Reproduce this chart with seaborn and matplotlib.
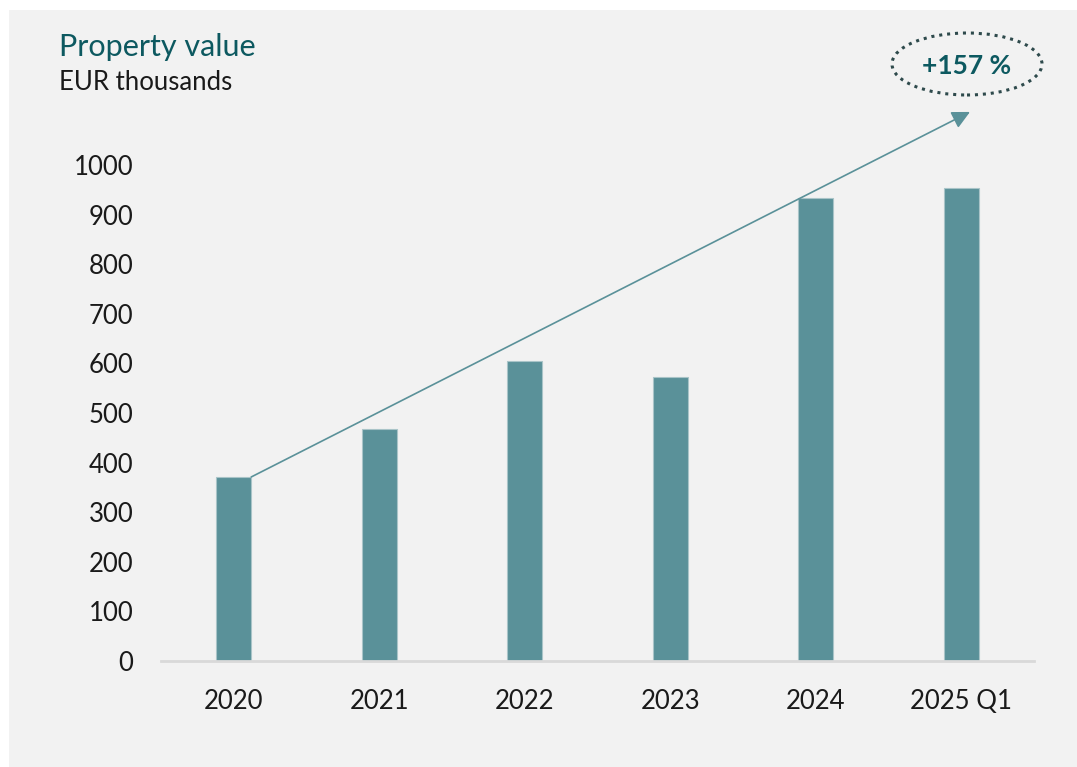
import matplotlib
matplotlib.use("Agg")
import matplotlib.pyplot as plt
from matplotlib.patches import Ellipse, Rectangle
import seaborn as sns
import pandas as pd

# Property value by year, EUR thousands
years = ["2020", "2021", "2022", "2023", "2024", "2025 Q1"]
values = [371, 468, 605, 573, 933, 954]
growth_label = "+157 %"
yticks = [0, 100, 200, 300, 400, 500, 600, 700, 800, 900, 1000]

bar_color = "#5a9199"
title_color = "#0d5960"
text_color = "#1a1a1a"
panel_color = "#f2f2f2"

sns.set_theme(style="white")
plt.rcParams["font.family"] = ["Lato", "DejaVu Sans"]

W, H = 1077, 767
fig = plt.figure(figsize=(W / 100, H / 100), dpi=100)
fig.patch.set_facecolor("white")
# light grey panel behind the chart
fig.patches.append(Rectangle((9 / W, 0), 1 - 9 / W, 1 - 10 / H,
                             transform=fig.transFigure, facecolor=panel_color,
                             edgecolor="none", zorder=-10))

ax = fig.add_axes([161 / W, 1 - 661 / H, (1034 - 161) / W, (661 - 165) / H])
ax.set_facecolor("none")

df = pd.DataFrame({"year": years, "value": values})
sns.barplot(data=df, x="year", y="value", color=bar_color, saturation=1,
            width=0.24, ax=ax, edgecolor="#a9c4c8", linewidth=0.8)

ax.set_xlim(-0.5, 5.5)
ax.set_ylim(0, 1000)
ax.set_yticks(yticks)
ax.set_xlabel("")
ax.set_ylabel("")
for s in ["top", "right", "left"]:
    ax.spines[s].set_visible(False)
ax.spines["bottom"].set_color("#d9d9d9")
ax.spines["bottom"].set_linewidth(2)
ax.tick_params(axis="both", length=0, labelsize=18.5, colors=text_color)
ax.tick_params(axis="y", pad=20)
ax.tick_params(axis="x", pad=20)

# growth arrow from the first bar to above the last one
ax.annotate("", xy=(5.06, 1107), xytext=(0.12, values[0]),
            xycoords="data", textcoords="data", annotation_clip=False,
            arrowprops=dict(arrowstyle="-|>,head_length=0.9,head_width=0.45",
                            color=bar_color, lw=1.2, shrinkA=0, shrinkB=0))

# dotted ellipse with the growth figure
ell = Ellipse((967 / W, 1 - 64 / H), 150 / W, 62 / H, transform=fig.transFigure,
              facecolor="none", edgecolor="#2e4a4c", linestyle=(0, (1, 1.6)),
              linewidth=2.2)
fig.patches.append(ell)
fig.text(967 / W, 1 - 66 / H, growth_label, ha="center", va="center",
         fontsize=19, fontweight="bold", color=title_color)

fig.text(59 / W, 1 - 47 / H, "Property value", ha="left", va="center",
         fontsize=22, color=title_color)
fig.text(59 / W, 1 - 82 / H, "EUR thousands", ha="left", va="center",
         fontsize=18.5, color=text_color)

fig.savefig("out.png", dpi=100)
